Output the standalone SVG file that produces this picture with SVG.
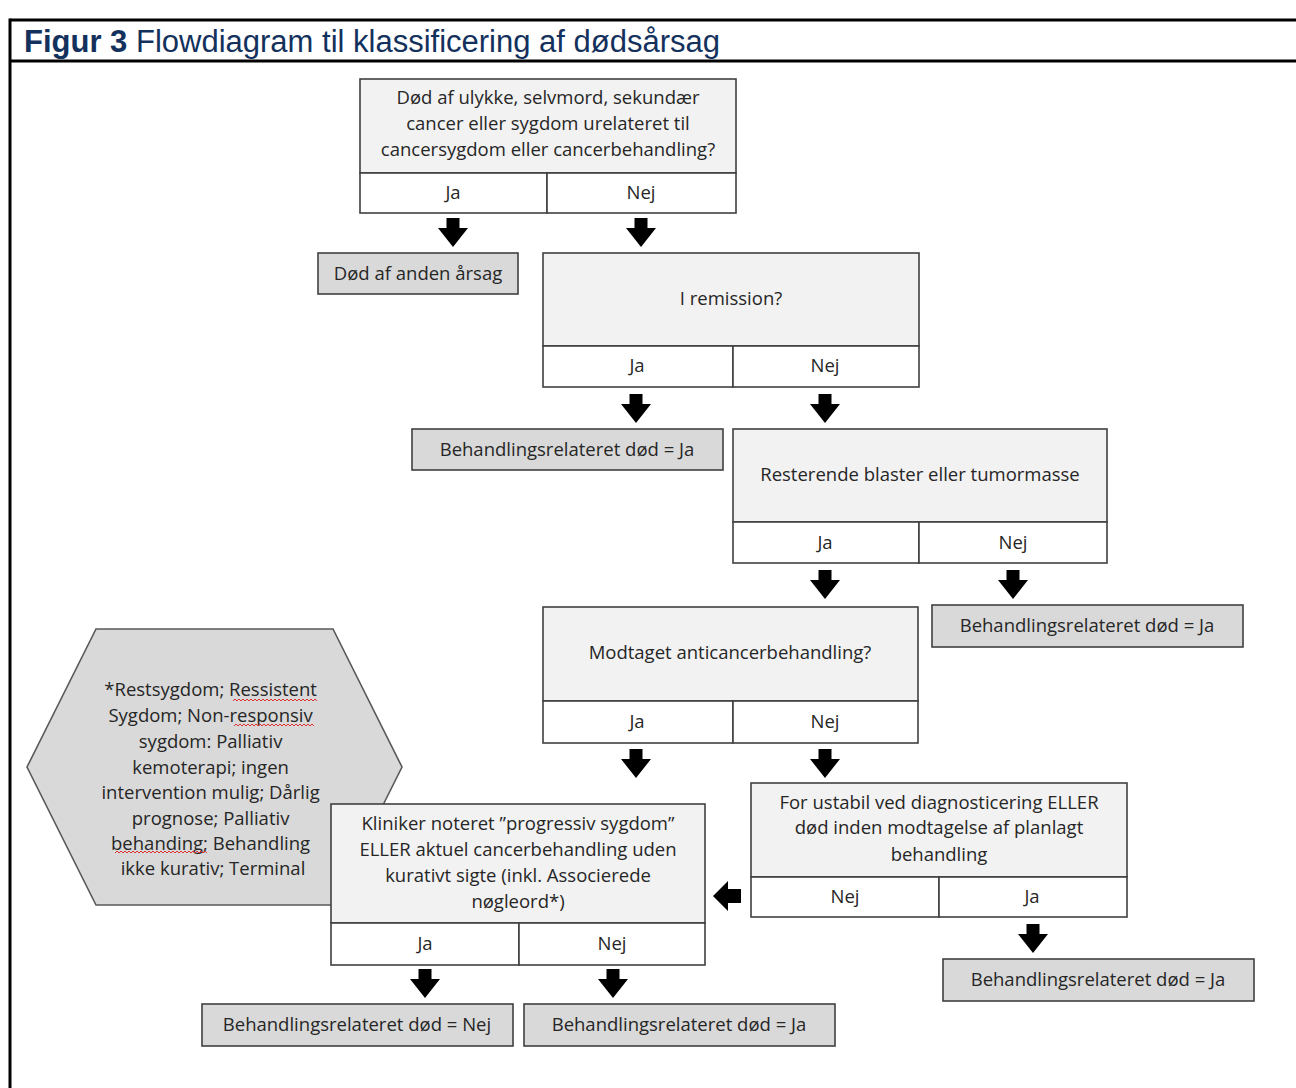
<svg xmlns="http://www.w3.org/2000/svg" xmlns:xlink="http://www.w3.org/1999/xlink" width="1296" height="1088" viewBox="0 0 1296 1088">
<style>
.frame{stroke:#000;stroke-width:3;fill:none}
.title{font-family:"Liberation Sans",Arial,sans-serif;font-size:31px;fill:#13315c}
.q{fill:#f2f2f2;stroke:#404040;stroke-width:1.6}
.o{fill:#fff;stroke:#404040;stroke-width:1.6}
.r{fill:#d9d9d9;stroke:#404040;stroke-width:1.6}
.hex{fill:#d9d9d9;stroke:#595959;stroke-width:1.6}
.t{font-family:"Open Sans","Noto Sans",sans-serif;font-size:18.5px;fill:#262626;text-anchor:middle}
.sq{fill:none;stroke:#e03030;stroke-width:1}
.arr{fill:#000}
</style>
<defs>
<path id="ad" d="M-6.5,0 H6.5 V10 H15 L0,29 L-15,10 H-6.5 Z"/>
<path id="al" d="M28,-7 V7 H15 V15 L0,0 L15,-15 V-7 Z"/>
</defs>
<rect width="1296" height="1088" fill="#fff"/>
<g id="frame">
<line class="frame" x1="10" y1="20" x2="1296" y2="20"/>
<line class="frame" x1="10" y1="61" x2="1296" y2="61"/>
<line class="frame" x1="10" y1="18.5" x2="10" y2="1088"/>
<text class="title" x="24" y="52"><tspan font-weight="bold">Figur 3</tspan> Flowdiagram til klassificering af dødsårsag</text>
</g>
<g id="hexagon-note">
<polygon class="hex" points="96,629 333,629 402,767 333,905 96,905 27,767"/>
<text class="t" x="213">
<tspan x="213" y="696">*Restsygdom; Ressistent</tspan>
<tspan x="213" y="722">Sygdom; Non-responsiv</tspan>
<tspan x="213" y="748">sygdom: Palliativ</tspan>
<tspan x="213" y="774">kemoterapi; ingen</tspan>
<tspan x="213" y="799">intervention mulig; Dårlig</tspan>
<tspan x="213" y="825">prognose; Palliativ</tspan>
<tspan x="213" y="850">behanding; Behandling</tspan>
<tspan x="213" y="875">ikke kurativ; Terminal</tspan>
</text>
<path class="sq" d="M233,701 l2,-2 l2,2 l2,-2 l2,2 l2,-2 l2,2 l2,-2 l2,2 l2,-2 l2,2 l2,-2 l2,2 l2,-2 l2,2 l2,-2 l2,2 l2,-2 l2,2 l2,-2 l2,2 l2,-2 l2,2 l2,-2 l2,2 l2,-2 l2,2 l2,-2 l2,2 l2,-2 l2,2 l2,-2 l2,2 l2,-2 l2,2 l2,-2 l2,2 l2,-2 l2,2 l2,-2 l2,2 l2,-2 l2,2"/>
<path class="sq" d="M234,726 l2,-2 l2,2 l2,-2 l2,2 l2,-2 l2,2 l2,-2 l2,2 l2,-2 l2,2 l2,-2 l2,2 l2,-2 l2,2 l2,-2 l2,2 l2,-2 l2,2 l2,-2 l2,2 l2,-2 l2,2 l2,-2 l2,2 l2,-2 l2,2 l2,-2 l2,2 l2,-2 l2,2 l2,-2 l2,2 l2,-2 l2,2 l2,-2 l2,2 l2,-2 l2,2 l2,-2 l2,2"/>
<path class="sq" d="M115,853 l2,-2 l2,2 l2,-2 l2,2 l2,-2 l2,2 l2,-2 l2,2 l2,-2 l2,2 l2,-2 l2,2 l2,-2 l2,2 l2,-2 l2,2 l2,-2 l2,2 l2,-2 l2,2 l2,-2 l2,2 l2,-2 l2,2 l2,-2 l2,2 l2,-2 l2,2 l2,-2 l2,2 l2,-2 l2,2 l2,-2 l2,2 l2,-2 l2,2 l2,-2 l2,2 l2,-2 l2,2 l2,-2 l2,2 l2,-2 l2,2 l2,-2 l2,2"/>
</g>
<g id="q1">
<rect class="q" x="360" y="79" width="376" height="94"/>
<rect class="o" x="360" y="173" width="187" height="40"/>
<rect class="o" x="547" y="173" width="189" height="40"/>
<text class="t"><tspan x="548" y="104">Død af ulykke, selvmord, sekundær</tspan><tspan x="548" y="130">cancer eller sygdom urelateret til</tspan><tspan x="548" y="156">cancersygdom eller cancerbehandling?</tspan></text>
<text class="t" x="453" y="199">Ja</text>
<text class="t" x="641" y="199">Nej</text>
</g>
<g id="r-anden">
<rect class="r" x="318" y="253" width="200" height="41"/>
<text class="t" x="418" y="280">Død af anden årsag</text>
</g>
<g id="q2">
<rect class="q" x="543" y="253" width="376" height="93"/>
<rect class="o" x="543" y="346" width="190" height="41"/>
<rect class="o" x="733" y="346" width="186" height="41"/>
<text class="t" x="731" y="305">I remission?</text>
<text class="t" x="637" y="372">Ja</text>
<text class="t" x="825" y="372">Nej</text>
</g>
<g id="r-ja1">
<rect class="r" x="412" y="429" width="311" height="41"/>
<text class="t" x="567" y="456">Behandlingsrelateret død = Ja</text>
</g>
<g id="q3">
<rect class="q" x="733" y="429" width="374" height="93"/>
<rect class="o" x="733" y="522" width="186" height="41"/>
<rect class="o" x="919" y="522" width="188" height="41"/>
<text class="t" x="920" y="481">Resterende blaster eller tumormasse</text>
<text class="t" x="825" y="549">Ja</text>
<text class="t" x="1013" y="549">Nej</text>
</g>
<g id="q4">
<rect class="q" x="543" y="607" width="375" height="94"/>
<rect class="o" x="543" y="701" width="190" height="42"/>
<rect class="o" x="733" y="701" width="185" height="42"/>
<text class="t" x="730" y="659">Modtaget anticancerbehandling?</text>
<text class="t" x="637" y="728">Ja</text>
<text class="t" x="825" y="728">Nej</text>
</g>
<g id="r-ja2">
<rect class="r" x="932" y="605" width="311" height="42"/>
<text class="t" x="1087" y="632">Behandlingsrelateret død = Ja</text>
</g>
<g id="q5">
<rect class="q" x="751" y="783" width="376" height="94"/>
<rect class="o" x="751" y="877" width="188" height="40"/>
<rect class="o" x="939" y="877" width="188" height="40"/>
<text class="t"><tspan x="939" y="809">For ustabil ved diagnosticering ELLER</tspan><tspan x="939" y="834">død inden modtagelse af planlagt</tspan><tspan x="939" y="861">behandling</tspan></text>
<text class="t" x="845" y="903">Nej</text>
<text class="t" x="1032" y="903">Ja</text>
</g>
<g id="r-ja3">
<rect class="r" x="943" y="959" width="311" height="42"/>
<text class="t" x="1098" y="986">Behandlingsrelateret død = Ja</text>
</g>
<g id="q6">
<rect class="q" x="331" y="804" width="374" height="119"/>
<rect class="o" x="331" y="923" width="188" height="42"/>
<rect class="o" x="519" y="923" width="186" height="42"/>
<text class="t"><tspan x="518" y="830">Kliniker noteret ”progressiv sygdom”</tspan><tspan x="518" y="856">ELLER aktuel cancerbehandling uden</tspan><tspan x="518" y="882">kurativt sigte (inkl. Associerede</tspan><tspan x="518" y="908">nøgleord*)</tspan></text>
<text class="t" x="425" y="950">Ja</text>
<text class="t" x="612" y="950">Nej</text>
</g>
<g id="r-nej">
<rect class="r" x="202" y="1004" width="311" height="42"/>
<text class="t" x="357" y="1031">Behandlingsrelateret død = Nej</text>
</g>
<g id="r-ja4">
<rect class="r" x="524" y="1004" width="311" height="42"/>
<text class="t" x="679" y="1031">Behandlingsrelateret død = Ja</text>
</g>
<g id="connectors" class="arr">
<use xlink:href="#ad" x="453" y="218"/>
<use xlink:href="#ad" x="641" y="218"/>
<use xlink:href="#ad" x="636" y="394"/>
<use xlink:href="#ad" x="825" y="394"/>
<use xlink:href="#ad" x="825" y="570"/>
<use xlink:href="#ad" x="1013" y="570"/>
<use xlink:href="#ad" x="636" y="749"/>
<use xlink:href="#ad" x="825" y="749"/>
<use xlink:href="#ad" x="1033" y="924"/>
<use xlink:href="#ad" x="425" y="969"/>
<use xlink:href="#ad" x="613" y="969"/>
<use xlink:href="#al" x="713" y="896"/>
</g>
</svg>
